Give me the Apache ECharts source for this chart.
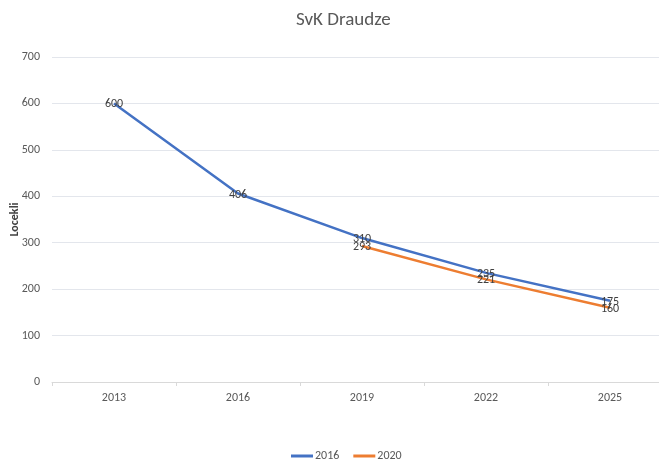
<!DOCTYPE html>
<html>
<head>
<meta charset="utf-8">
<script src="https://cdn.jsdelivr.net/npm/echarts@6/dist/echarts.min.js"></script>
<style>html,body{margin:0;padding:0;background:#fff}#c{width:659px;height:460px}</style>
</head>
<body>
<div id="c"></div>
<script>
const categories = ['2013', '2016', '2019', '2022', '2025'];
const series2016 = [600, 406, 310, 235, 175];
const series2020 = [null, null, 293, 221, 160];
const seriesNames = ['2016', '2020'];

const chart = echarts.init(document.getElementById('c'), null, {renderer: 'canvas'});
const font = 'Calibri, Carlito, "Liberation Sans", "Open Sans", sans-serif';
function lineSeries(name, data, color) {
  return {
    name: name, type: 'line', data: data,
    symbol: 'circle', symbolSize: 0.1, showSymbol: true,
    lineStyle: {color: color, width: 2.5},
    itemStyle: {color: color},
    label: {show: true, position: 'inside', offset: [0, 1], color: '#404040', fontSize: 12, fontFamily: font},
    emphasis: {disabled: true},
    animation: false
  };
}
chart.setOption({
  animation: false,
  title: {text: 'SvK Draudze', left: 291, top: 6,
    textStyle: {color: '#595959', fontSize: 19, fontWeight: 'normal', fontFamily: font}},
  legend: {left: 286, top: 445, icon: 'rect', itemWidth: 22, itemHeight: 3, itemGap: 14,
    textStyle: {color: '#595959', fontSize: 12, fontFamily: font, padding: [0,0,0,-3]},
    data: seriesNames},
  grid: {left: 52, right: -13, top: 57, bottom: 78, containLabel: false, outerBoundsMode: 'none'},
  xAxis: {type: 'category', data: categories, boundaryGap: true,
    axisLine: {lineStyle: {color: '#d9d9d9'}},
    axisTick: {show: true, lineStyle: {color: '#d9d9d9'}, length: 4},
    axisLabel: {color: '#595959', fontSize: 12, margin: 10, fontFamily: font}},
  yAxis: {type: 'value', min: 0, max: 700, interval: 100,
    name: 'Locekli', nameLocation: 'middle', nameGap: 31, nameMoveOverlap: false,
    nameTextStyle: {color: '#404040', fontSize: 12, fontWeight: 'bold', fontFamily: font},
    axisLine: {show: false}, axisTick: {show: false},
    splitLine: {lineStyle: {color: '#e3e6ec'}},
    axisLabel: {color: '#595959', fontSize: 12, margin: 12, fontFamily: font}},
  series: [lineSeries(seriesNames[0], series2016, '#4472C4'), lineSeries(seriesNames[1], series2020, '#ED7D31')]
});
</script>
</body>
</html>
